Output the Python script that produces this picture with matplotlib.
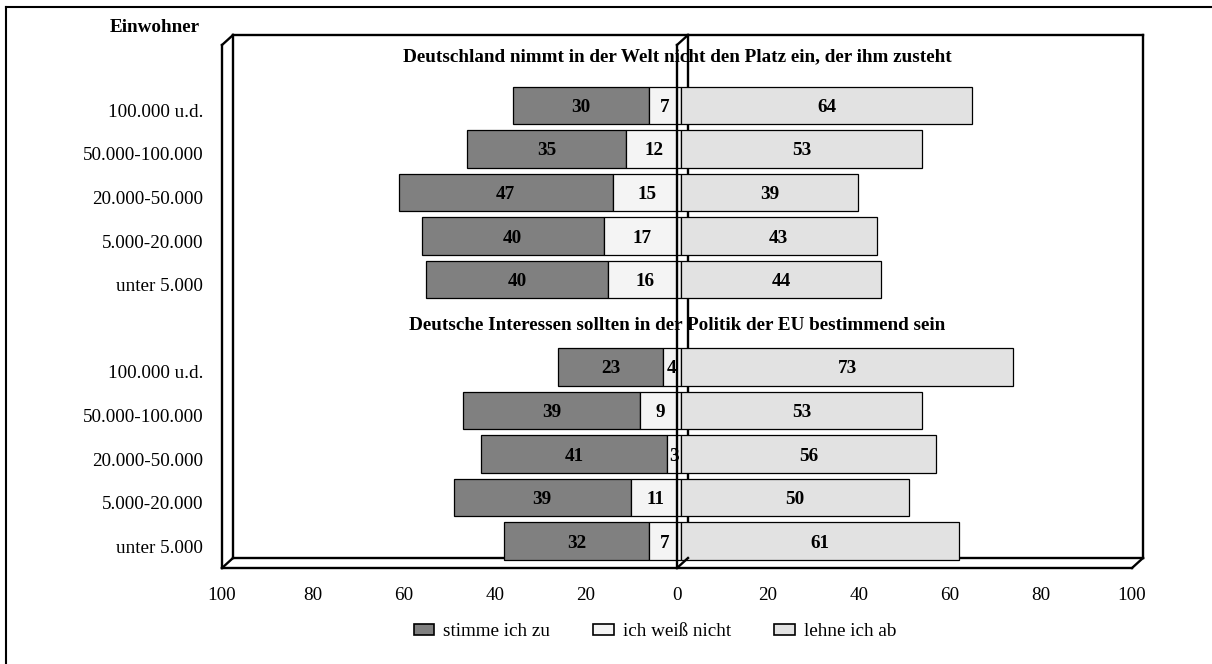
import matplotlib
matplotlib.use("Agg")
import matplotlib.pyplot as plt
from matplotlib.lines import Line2D
from matplotlib.patches import Patch
from matplotlib.transforms import Affine2D, offset_copy

plt.rcParams['font.family'] = ['Liberation Serif', 'DejaVu Serif']

# data, top to bottom
orte = ["100.000 u.d.", "50.000-100.000", "20.000-50.000", "5.000-20.000", "unter 5.000"]
titel1 = "Deutschland nimmt in der Welt nicht den Platz ein, der ihm zusteht"
titel2 = "Deutsche Interessen sollten in der Politik der EU bestimmend sein"
zu_1 = [30, 35, 47, 40, 40]
weiss_1 = [7, 12, 15, 17, 16]
ab_1 = [64, 53, 39, 43, 44]
zu_2 = [23, 39, 41, 39, 32]
weiss_2 = [4, 9, 3, 11, 7]
ab_2 = [73, 53, 56, 50, 61]
legende = ["stimme ich zu", "ich weiß nicht", "lehne ich ab"]
ticks = [-100, -80, -60, -40, -20, 0, 20, 40, 60, 80, 100]

c_zu, c_weiss, c_ab = '#808080', '#f4f4f4', '#e2e2e2'
fs = 13.8

W, H = 1212, 664
fig = plt.figure(figsize=(W / 100, H / 100), dpi=100)
ax = fig.add_axes([222 / W, 1 - 568 / H, 910 / W, 523 / H])
ax.set_xlim(-100, 100)
ax.set_ylim(11.5, -0.5)
for s in ax.spines.values():
    s.set_visible(False)

# rows: 0 title1, 1-5 group 1, 6 title2, 7-11 group 2
y1 = [1, 2, 3, 4, 5]
y2 = [7, 8, 9, 10, 11]
zu = zu_1 + zu_2
weiss = weiss_1 + weiss_2
ab = ab_1 + ab_2
ys = y1 + y2

dx, dy = 11, 10
back = ax.transAxes + Affine2D().translate(dx, dy)
front = ax.transAxes
kw = dict(color='black', lw=1.7, solid_capstyle='projecting', clip_on=False)

def seg(x0, y0, t0, x1, y1_, t1, z=3):
    p0 = t0.transform((x0, y0))
    p1 = t1.transform((x1, y1_))
    ax.add_line(Line2D([p0[0], p1[0]], [p0[1], p1[1]], transform=None, zorder=z, **kw))

fig.canvas.draw()
# back wall
seg(0, 1, back, 1, 1, back, 1)
seg(1, 1, back, 1, 0, back, 1)
seg(0, 0, back, 1, 0, back, 1)
seg(0, 0, back, 0, 1, back, 1)
# left wall + floor (front edges)
seg(0, 0, front, 0, 1, front)
seg(0, 1, front, 0, 1, back)
seg(0, 0, front, 1, 0, front)
seg(0, 0, front, 0, 0, back)
seg(1, 0, front, 1, 0, back)
# zero wall
zb = ax.transData + Affine2D().translate(dx, dy)
zf = ax.transData
seg(0, -0.5, zb, 0, 11.5, zb, 1)
seg(0, -0.5, zf, 0, -0.5, zb, 3)
seg(0, 11.5, zf, 0, 11.5, zb, 3)

# bars, half way between front and back
tr = offset_copy(ax.transData, fig=fig, x=4, y=5, units='dots')
h = 0.86
for y, a, b, c in zip(ys, zu, weiss, ab):
    ax.barh(y, -a, left=-b, height=h, color=c_zu, edgecolor='black', lw=0.9, transform=tr, zorder=2)
    ax.barh(y, -b, height=h, color=c_weiss, edgecolor='black', lw=0.9, transform=tr, zorder=2)
    ax.barh(y, c, height=h, color=c_ab, edgecolor='black', lw=0.9, transform=tr, zorder=2)
    tk = dict(ha='center', va='center_baseline', fontsize=fs, fontweight='bold', transform=tr, zorder=4)
    ax.text(-b - a / 2, y, str(a), **tk)
    ax.text(-b / 2, y, str(b), **tk)
    ax.text(c / 2, y, str(c), **tk)

# front line of zero wall over the bars
seg(0, -0.5, zf, 0, 11.5, zf, 5)

ax.text(0, -0.23, titel1, ha='center', va='center', fontsize=fs, fontweight='bold')
ax.text(0, 5.94, titel2, ha='center', va='center', fontsize=fs, fontweight='bold')

ax.set_yticks(ys, orte + orte)
ax.set_xticks(ticks, [str(abs(t)) for t in ticks])
ax.tick_params(axis='y', length=0, pad=13.5, labelsize=fs)
ax.tick_params(axis='x', length=0, pad=13.5, labelsize=fs)

fig.text(155 / W, 1 - 27 / H, "Einwohner", ha='center', va='center', fontsize=fs, fontweight='bold')

handles = [Patch(facecolor=c, edgecolor='black', lw=1.2) for c in (c_zu, c_weiss, c_ab)]
fig.legend(handles, legende, loc='center', bbox_to_anchor=(655 / W, 1 - 632 / H), ncol=3,
           frameon=False, fontsize=fs, handlelength=1.07, handleheight=0.55,
           columnspacing=2.25, handletextpad=0.48)

# outer border (top and left)
fig.add_artist(Line2D([6 / W, 1], [1 - 7 / H, 1 - 7 / H], color='black', lw=1.5, transform=fig.transFigure))
fig.add_artist(Line2D([6 / W, 6 / W], [0, 1 - 7 / H], color='black', lw=1.5, transform=fig.transFigure))

fig.savefig("out.png", dpi=100, facecolor='white')
